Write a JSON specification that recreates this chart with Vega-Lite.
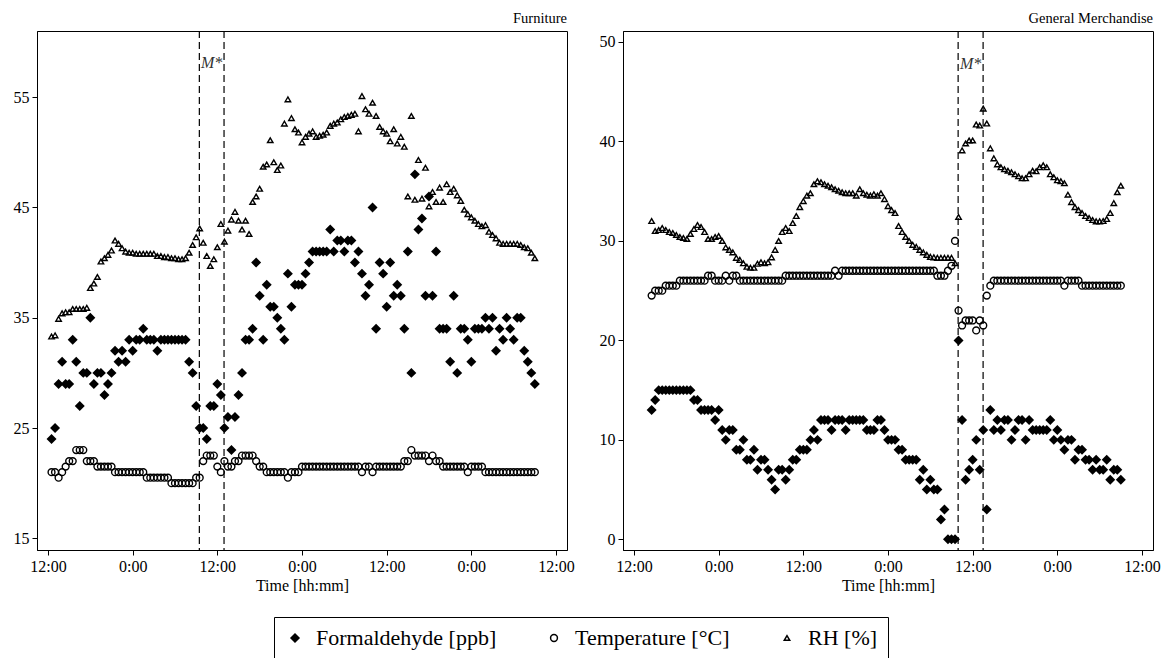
{
"$schema": "https://vega.github.io/schema/vega-lite/v6.json",
"padding": {"left": 12, "top": 10, "right": 5, "bottom": 70},
"spacing": 23,
"config": {
  "font": "Liberation Serif",
  "view": {"stroke": "black", "strokeWidth": 1},
  "axis": {"grid": false, "domainColor": "black", "tickColor": "black", "tickSize": 5, "labelColor": "black", "labelFontSize": 16, "labelFont": "Liberation Serif", "titleFont": "Liberation Serif", "titleFontSize": 16, "titleFontWeight": "normal", "titleColor": "black", "labelPadding": 3, "titlePadding": 3},
  "legend": {"labelFont": "Liberation Serif"},
  "title": {"font": "Liberation Serif", "fontSize": 14.5, "fontWeight": "normal", "color": "black", "anchor": "end", "frame": "group", "offset": 4}
},
"datasets": {
"furn": [
{"h":12.5,"f":24,"T":21,"rh":33.3},{"h":13,"f":25,"T":21,"rh":33.4},{"h":13.5,"f":29,"T":20.5,"rh":34.9},{"h":14,"f":31,"T":21,"rh":35.4},{"h":14.5,"f":29,"T":21.5,"rh":35.5},{"h":15,"f":29,"T":22,"rh":35.5},{"h":15.5,"f":33,"T":22,"rh":35.8},{"h":16,"f":31,"T":23,"rh":35.8},{"h":16.5,"f":27,"T":23,"rh":35.8},{"h":17,"f":30,"T":23,"rh":35.8},{"h":17.5,"f":30,"T":22,"rh":35.9},{"h":18,"f":35,"T":22,"rh":37.7},{"h":18.5,"f":29,"T":22,"rh":38.1},{"h":19,"f":30,"T":21.5,"rh":38.7},{"h":19.5,"f":30,"T":21.5,"rh":40.1},{"h":20,"f":28,"T":21.5,"rh":40.4},{"h":20.5,"f":29,"T":21.5,"rh":40.7},{"h":21,"f":30,"T":21.5,"rh":41.1},{"h":21.5,"f":32,"T":21,"rh":42.0},{"h":22,"f":31,"T":21,"rh":41.7},{"h":22.5,"f":32,"T":21,"rh":41.3},{"h":23,"f":31,"T":21,"rh":41.0},{"h":23.5,"f":33,"T":21,"rh":40.9},{"h":24,"f":32,"T":21,"rh":40.9},{"h":24.5,"f":33,"T":21,"rh":40.8},{"h":25,"f":33,"T":21,"rh":40.8},{"h":25.5,"f":34,"T":21,"rh":40.8},{"h":26,"f":33,"T":20.5,"rh":40.8},{"h":26.5,"f":33,"T":20.5,"rh":40.8},{"h":27,"f":33,"T":20.5,"rh":40.8},{"h":27.5,"f":32,"T":20.5,"rh":40.6},{"h":28,"f":33,"T":20.5,"rh":40.6},{"h":28.5,"f":33,"T":20.5,"rh":40.5},{"h":29,"f":33,"T":20.5,"rh":40.5},{"h":29.5,"f":33,"T":20,"rh":40.4},{"h":30,"f":33,"T":20,"rh":40.4},{"h":30.5,"f":33,"T":20,"rh":40.3},{"h":31,"f":33,"T":20,"rh":40.3},{"h":31.5,"f":33,"T":20,"rh":40.4},{"h":32,"f":31,"T":20,"rh":40.9},{"h":32.5,"f":30,"T":20,"rh":41.6},{"h":33,"f":27,"T":20.5,"rh":42.3},{"h":33.5,"f":25,"T":20.5,"rh":43.1},{"h":34,"f":25,"T":22,"rh":41.8},{"h":34.5,"f":24,"T":22.5,"rh":40.6},{"h":35,"f":27,"T":22.5,"rh":39.7},{"h":35.5,"f":27,"T":22.5,"rh":40.3},{"h":36,"f":29,"T":21.5,"rh":41.4},{"h":36.5,"f":28,"T":21,"rh":43.5},{"h":37,"f":25,"T":22,"rh":41.9},{"h":37.5,"f":26,"T":21.5,"rh":42.9},{"h":38,"f":23,"T":21.5,"rh":43.9},{"h":38.5,"f":26,"T":22,"rh":44.6},{"h":39,"f":28,"T":22,"rh":43.8},{"h":39.5,"f":30,"T":22.5,"rh":43.0},{"h":40,"f":33,"T":22.5,"rh":43.8},{"h":40.5,"f":33,"T":22.5,"rh":42.6},{"h":41,"f":34,"T":22.5,"rh":45.5},{"h":41.5,"f":40,"T":22,"rh":46.0},{"h":42,"f":37,"T":21.5,"rh":46.7},{"h":42.5,"f":33,"T":21.5,"rh":48.7},{"h":43,"f":38,"T":21,"rh":48.9},{"h":43.5,"f":36,"T":21,"rh":51.1},{"h":44,"f":36,"T":21,"rh":49.1},{"h":44.5,"f":35,"T":21,"rh":48.4},{"h":45,"f":34,"T":21,"rh":48.8},{"h":45.5,"f":33,"T":21,"rh":52.6},{"h":46,"f":39,"T":20.5,"rh":54.8},{"h":46.5,"f":36,"T":21,"rh":53.1},{"h":47,"f":38,"T":21,"rh":52.1},{"h":47.5,"f":38,"T":21,"rh":51.8},{"h":48,"f":38,"T":21.5,"rh":50.9},{"h":48.5,"f":39,"T":21.5,"rh":51.4},{"h":49,"f":40,"T":21.5,"rh":51.7},{"h":49.5,"f":41,"T":21.5,"rh":51.9},{"h":50,"f":41,"T":21.5,"rh":51.4},{"h":50.5,"f":41,"T":21.5,"rh":51.5},{"h":51,"f":41,"T":21.5,"rh":51.6},{"h":51.5,"f":41,"T":21.5,"rh":51.8},{"h":52,"f":43,"T":21.5,"rh":52.4},{"h":52.5,"f":41,"T":21.5,"rh":52.6},{"h":53,"f":42,"T":21.5,"rh":52.7},{"h":53.5,"f":42,"T":21.5,"rh":53.0},{"h":54,"f":41,"T":21.5,"rh":53.2},{"h":54.5,"f":42,"T":21.5,"rh":53.3},{"h":55,"f":42,"T":21.5,"rh":53.4},{"h":55.5,"f":40,"T":21.5,"rh":53.5},{"h":56,"f":41,"T":21.5,"rh":51.9},{"h":56.5,"f":39,"T":21,"rh":55.1},{"h":57,"f":37,"T":21.5,"rh":53.9},{"h":57.5,"f":38,"T":21.5,"rh":53.5},{"h":58,"f":45,"T":21,"rh":54.5},{"h":58.5,"f":34,"T":21.5,"rh":53.3},{"h":59,"f":40,"T":21.5,"rh":52.3},{"h":59.5,"f":39,"T":21.5,"rh":51.9},{"h":60,"f":36,"T":21.5,"rh":51.7},{"h":60.5,"f":40,"T":21.5,"rh":51.0},{"h":61,"f":37,"T":21.5,"rh":52.1},{"h":61.5,"f":38,"T":21.5,"rh":50.8},{"h":62,"f":37,"T":21.5,"rh":51.4},{"h":62.5,"f":34,"T":22,"rh":50.5},{"h":63,"f":41,"T":22,"rh":46.0},{"h":63.5,"f":30,"T":23,"rh":53.3},{"h":64,"f":48,"T":22.5,"rh":45.7},{"h":64.5,"f":43,"T":22.5,"rh":49.3},{"h":65,"f":44,"T":22.5,"rh":45.8},{"h":65.5,"f":37,"T":22.5,"rh":48.6},{"h":66,"f":46,"T":22,"rh":45.1},{"h":66.5,"f":37,"T":22.5,"rh":46.4},{"h":67,"f":41,"T":22,"rh":45.5},{"h":67.5,"f":34,"T":22,"rh":46.8},{"h":68,"f":34,"T":21.5,"rh":45.5},{"h":68.5,"f":34,"T":21.5,"rh":47.1},{"h":69,"f":31,"T":21.5,"rh":46.4},{"h":69.5,"f":37,"T":21.5,"rh":46.7},{"h":70,"f":30,"T":21.5,"rh":46.1},{"h":70.5,"f":34,"T":21.5,"rh":45.6},{"h":71,"f":34,"T":21.5,"rh":44.8},{"h":71.5,"f":33,"T":21,"rh":44.4},{"h":72,"f":31,"T":21.5,"rh":44.1},{"h":72.5,"f":34,"T":21.5,"rh":43.8},{"h":73,"f":34,"T":21.5,"rh":43.5},{"h":73.5,"f":34,"T":21.5,"rh":43.3},{"h":74,"f":35,"T":21,"rh":43.4},{"h":74.5,"f":34,"T":21,"rh":42.8},{"h":75,"f":35,"T":21,"rh":42.5},{"h":75.5,"f":32,"T":21,"rh":42.2},{"h":76,"f":34,"T":21,"rh":41.8},{"h":76.5,"f":33,"T":21,"rh":41.7},{"h":77,"f":35,"T":21,"rh":41.7},{"h":77.5,"f":34,"T":21,"rh":41.7},{"h":78,"f":33,"T":21,"rh":41.7},{"h":78.5,"f":35,"T":21,"rh":41.7},{"h":79,"f":35,"T":21,"rh":41.6},{"h":79.5,"f":32,"T":21,"rh":41.4},{"h":80,"f":31,"T":21,"rh":41.3},{"h":80.5,"f":30,"T":21,"rh":40.9},{"h":81,"f":29,"T":21,"rh":40.4}
],
"gm": [
{"h":14.5,"f":13,"T":24.5,"rh":32.0},{"h":15,"f":14,"T":25,"rh":31.0},{"h":15.5,"f":15,"T":25,"rh":31.1},{"h":16,"f":15,"T":25,"rh":31.3},{"h":16.5,"f":15,"T":25.5,"rh":31.1},{"h":17,"f":15,"T":25.5,"rh":30.9},{"h":17.5,"f":15,"T":25.5,"rh":30.8},{"h":18,"f":15,"T":25.5,"rh":30.6},{"h":18.5,"f":15,"T":26,"rh":30.4},{"h":19,"f":15,"T":26,"rh":30.3},{"h":19.5,"f":15,"T":26,"rh":30.2},{"h":20,"f":15,"T":26,"rh":30.7},{"h":20.5,"f":14,"T":26,"rh":31.2},{"h":21,"f":14,"T":26,"rh":31.6},{"h":21.5,"f":13,"T":26,"rh":31.4},{"h":22,"f":13,"T":26,"rh":30.9},{"h":22.5,"f":13,"T":26.5,"rh":30.2},{"h":23,"f":13,"T":26.5,"rh":30.2},{"h":23.5,"f":12,"T":26,"rh":30.4},{"h":24,"f":13,"T":26,"rh":30.5},{"h":24.5,"f":11,"T":26,"rh":30.0},{"h":25,"f":10,"T":26.5,"rh":29.35},{"h":25.5,"f":11,"T":26,"rh":29.1},{"h":26,"f":11,"T":26.5,"rh":28.85},{"h":26.5,"f":9,"T":26.5,"rh":28.3},{"h":27,"f":9,"T":26,"rh":28.1},{"h":27.5,"f":10,"T":26,"rh":27.75},{"h":28,"f":8,"T":26,"rh":27.4},{"h":28.5,"f":8,"T":26,"rh":27.3},{"h":29,"f":9,"T":26,"rh":27.3},{"h":29.5,"f":7,"T":26,"rh":27.7},{"h":30,"f":8,"T":26,"rh":27.85},{"h":30.5,"f":8,"T":26,"rh":27.75},{"h":31,"f":7,"T":26,"rh":27.85},{"h":31.5,"f":6,"T":26,"rh":28.35},{"h":32,"f":5,"T":26,"rh":29.1},{"h":32.5,"f":7,"T":26,"rh":30.0},{"h":33,"f":7,"T":26,"rh":30.9},{"h":33.5,"f":6,"T":26.5,"rh":31.3},{"h":34,"f":7,"T":26.5,"rh":31.0},{"h":34.5,"f":8,"T":26.5,"rh":31.8},{"h":35,"f":8,"T":26.5,"rh":32.5},{"h":35.5,"f":9,"T":26.5,"rh":33.4},{"h":36,"f":9,"T":26.5,"rh":34.0},{"h":36.5,"f":9,"T":26.5,"rh":34.55},{"h":37,"f":10,"T":26.5,"rh":34.8},{"h":37.5,"f":11,"T":26.5,"rh":35.7},{"h":38,"f":10,"T":26.5,"rh":36.0},{"h":38.5,"f":12,"T":26.5,"rh":35.9},{"h":39,"f":12,"T":26.5,"rh":35.7},{"h":39.5,"f":12,"T":26.5,"rh":35.55},{"h":40,"f":11,"T":26.5,"rh":35.4},{"h":40.5,"f":12,"T":27,"rh":35.2},{"h":41,"f":12,"T":26.5,"rh":35.05},{"h":41.5,"f":12,"T":27,"rh":34.9},{"h":42,"f":11,"T":27,"rh":34.8},{"h":42.5,"f":12,"T":27,"rh":34.8},{"h":43,"f":12,"T":27,"rh":34.8},{"h":43.5,"f":12,"T":27,"rh":34.55},{"h":44,"f":12,"T":27,"rh":35.2},{"h":44.5,"f":12,"T":27,"rh":34.8},{"h":45,"f":11,"T":27,"rh":34.65},{"h":45.5,"f":11,"T":27,"rh":34.55},{"h":46,"f":11,"T":27,"rh":34.7},{"h":46.5,"f":12,"T":27,"rh":34.55},{"h":47,"f":12,"T":27,"rh":34.8},{"h":47.5,"f":11,"T":27,"rh":34.2},{"h":48,"f":10,"T":27,"rh":33.5},{"h":48.5,"f":10,"T":27,"rh":33.1},{"h":49,"f":10,"T":27,"rh":32.8},{"h":49.5,"f":9,"T":27,"rh":31.5},{"h":50,"f":9,"T":27,"rh":30.9},{"h":50.5,"f":8,"T":27,"rh":30.4},{"h":51,"f":8,"T":27,"rh":30.0},{"h":51.5,"f":8,"T":27,"rh":29.6},{"h":52,"f":8,"T":27,"rh":29.4},{"h":52.5,"f":6,"T":27,"rh":29.1},{"h":53,"f":7,"T":27,"rh":28.85},{"h":53.5,"f":5,"T":27,"rh":28.6},{"h":54,"f":6,"T":27,"rh":28.4},{"h":54.5,"f":5,"T":27,"rh":28.35},{"h":55,"f":5,"T":26.5,"rh":28.3},{"h":55.5,"f":2,"T":26.5,"rh":28.3},{"h":56,"f":3,"T":26.5,"rh":28.3},{"h":56.5,"f":0,"T":27,"rh":28.3},{"h":57,"f":0,"T":27.5,"rh":28.3},{"h":57.5,"f":0,"T":30,"rh":27.75},{"h":58,"f":20,"T":23,"rh":32.4},{"h":58.5,"f":12,"T":21.5,"rh":39.1},{"h":59,"f":6,"T":22,"rh":39.8},{"h":59.5,"f":7,"T":22,"rh":40.1},{"h":60,"f":8,"T":22,"rh":40.1},{"h":60.5,"f":10,"T":21,"rh":41.7},{"h":61,"f":7,"T":22,"rh":41.6},{"h":61.5,"f":11,"T":21.5,"rh":43.3},{"h":62,"f":3,"T":24.5,"rh":41.8},{"h":62.5,"f":13,"T":25.5,"rh":39.3},{"h":63,"f":11,"T":26,"rh":38.3},{"h":63.5,"f":12,"T":26,"rh":37.7},{"h":64,"f":11,"T":26,"rh":37.4},{"h":64.5,"f":12,"T":26,"rh":37.2},{"h":65,"f":12,"T":26,"rh":37.06},{"h":65.5,"f":10,"T":26,"rh":36.9},{"h":66,"f":11,"T":26,"rh":36.7},{"h":66.5,"f":12,"T":26,"rh":36.5},{"h":67,"f":12,"T":26,"rh":36.3},{"h":67.5,"f":10,"T":26,"rh":36.3},{"h":68,"f":12,"T":26,"rh":36.7},{"h":68.5,"f":11,"T":26,"rh":37.06},{"h":69,"f":11,"T":26,"rh":37.0},{"h":69.5,"f":11,"T":26,"rh":37.4},{"h":70,"f":11,"T":26,"rh":37.6},{"h":70.5,"f":11,"T":26,"rh":37.4},{"h":71,"f":12,"T":26,"rh":36.7},{"h":71.5,"f":10,"T":26,"rh":36.4},{"h":72,"f":11,"T":26,"rh":36.1},{"h":72.5,"f":10,"T":26,"rh":36.0},{"h":73,"f":9,"T":25.5,"rh":35.8},{"h":73.5,"f":10,"T":26,"rh":34.65},{"h":74,"f":10,"T":26,"rh":33.9},{"h":74.5,"f":8,"T":26,"rh":33.4},{"h":75,"f":9,"T":26,"rh":33.1},{"h":75.5,"f":9,"T":25.5,"rh":32.8},{"h":76,"f":8,"T":25.5,"rh":32.5},{"h":76.5,"f":8,"T":25.5,"rh":32.3},{"h":77,"f":7,"T":25.5,"rh":32.1},{"h":77.5,"f":8,"T":25.5,"rh":31.97},{"h":78,"f":7,"T":25.5,"rh":31.97},{"h":78.5,"f":7,"T":25.5,"rh":32.0},{"h":79,"f":8,"T":25.5,"rh":32.2},{"h":79.5,"f":6,"T":25.5,"rh":32.8},{"h":80,"f":7,"T":25.5,"rh":33.8},{"h":80.5,"f":7,"T":25.5,"rh":34.9},{"h":81,"f":6,"T":25.5,"rh":35.55}
]
},
"hconcat": [
{
  "width": 530, "height": 519,
  "title": {"text": "Furniture"},
  "layer": [
    {
      "data": {"name": "furn"},
      "transform": [{"fold": ["f", "T", "rh"], "as": ["key", "value"]}],
      "mark": {"type": "point", "filled": false, "opacity": 1, "color": "black", "strokeWidth": 1.4},
      "encoding": {
        "x": {"field": "h", "type": "quantitative", "scale": {"domain": [10.44, 85.56], "nice": false, "zero": false}, "axis": {"values": [12, 24, 36, 48, 60, 72, 84], "labelExpr": "datum.value % 24 == 0 ? '0:00' : '12:00'", "title": "Time [hh:mm]"}},
        "y": {"field": "value", "type": "quantitative", "scale": {"domain": [13.94, 61.0], "nice": false, "zero": false}, "axis": {"values": [15, 25, 35, 45, 55], "title": null}},
        "shape": {"field": "key", "type": "nominal", "scale": {"domain": ["f", "T", "rh"], "range": ["M-1,0L0,-1L1,0L0,1Z M-0.75,0L0,-0.75L0.75,0L0,0.75Z M-0.5,0L0,-0.5L0.5,0L0,0.5Z M-0.25,0L0,-0.25L0.25,0L0,0.25Z M-0.05,0L0,-0.05L0.05,0L0,0.05Z", "circle", "triangle-up"]}, "legend": {"title": null, "orient": "none", "legendX": 237, "legendY": 586, "direction": "horizontal", "labelFont": "Liberation Serif", "labelFontSize": 22, "labelColor": "black", "labelLimit": 0, "labelOffset": 10, "columnPadding": 46, "padding": 10, "strokeColor": "black", "labelExpr": "datum.label == 'f' ? 'Formaldehyde [ppb]' : datum.label == 'T' ? 'Temperature [°C]' : 'RH [%]'"}},
        "size": {"field": "key", "type": "nominal", "scale": {"domain": ["f", "T", "rh"], "range": [64, 30, 72]}, "legend": {"title": null, "orient": "none", "legendX": 237, "legendY": 586, "direction": "horizontal", "labelFont": "Liberation Serif", "labelFontSize": 22, "labelColor": "black", "labelLimit": 0, "labelOffset": 10, "columnPadding": 46, "padding": 10, "strokeColor": "black", "labelExpr": "datum.label == 'f' ? 'Formaldehyde [ppb]' : datum.label == 'T' ? 'Temperature [°C]' : 'RH [%]'"}}
      }
    },
    {
      "data": {"values": [{"h": 33.45}, {"h": 36.95}]},
      "mark": {"type": "rule", "color": "black", "strokeWidth": 1.2, "strokeDash": [7, 4]},
      "encoding": {"x": {"field": "h", "type": "quantitative"}}
    },
    {
      "data": {"values": [{"h": 35.2, "y": 58.1, "label": "M*"}]},
      "mark": {"type": "text", "fontStyle": "italic", "fontSize": 16, "font": "Liberation Serif", "color": "#333333"},
      "encoding": {"x": {"field": "h", "type": "quantitative"}, "y": {"field": "y", "type": "quantitative"}, "text": {"field": "label"}}
    }
  ]
},
{
  "width": 530, "height": 519,
  "title": {"text": "General Merchandise"},
  "layer": [
    {
      "data": {"name": "gm"},
      "transform": [{"fold": ["f", "T", "rh"], "as": ["key", "value"]}],
      "mark": {"type": "point", "filled": false, "opacity": 1, "color": "black", "strokeWidth": 1.4},
      "encoding": {
        "x": {"field": "h", "type": "quantitative", "scale": {"domain": [10.44, 85.56], "nice": false, "zero": false}, "axis": {"values": [12, 24, 36, 48, 60, 72, 84], "labelExpr": "datum.value % 24 == 0 ? '0:00' : '12:00'", "title": "Time [hh:mm]"}},
        "y": {"field": "value", "type": "quantitative", "scale": {"domain": [-1.07, 51.1], "nice": false, "zero": false}, "axis": {"values": [0, 10, 20, 30, 40, 50], "title": null}},
        "shape": {"field": "key", "type": "nominal", "scale": {"domain": ["f", "T", "rh"], "range": ["M-1,0L0,-1L1,0L0,1Z M-0.75,0L0,-0.75L0.75,0L0,0.75Z M-0.5,0L0,-0.5L0.5,0L0,0.5Z M-0.25,0L0,-0.25L0.25,0L0,0.25Z M-0.05,0L0,-0.05L0.05,0L0,0.05Z", "circle", "triangle-up"]}, "legend": {"title": null, "orient": "none", "legendX": 237, "legendY": 586, "direction": "horizontal", "labelFont": "Liberation Serif", "labelFontSize": 22, "labelColor": "black", "labelLimit": 0, "labelOffset": 10, "columnPadding": 46, "padding": 10, "strokeColor": "black", "labelExpr": "datum.label == 'f' ? 'Formaldehyde [ppb]' : datum.label == 'T' ? 'Temperature [°C]' : 'RH [%]'"}},
        "size": {"field": "key", "type": "nominal", "scale": {"domain": ["f", "T", "rh"], "range": [64, 30, 72]}, "legend": {"title": null, "orient": "none", "legendX": 237, "legendY": 586, "direction": "horizontal", "labelFont": "Liberation Serif", "labelFontSize": 22, "labelColor": "black", "labelLimit": 0, "labelOffset": 10, "columnPadding": 46, "padding": 10, "strokeColor": "black", "labelExpr": "datum.label == 'f' ? 'Formaldehyde [ppb]' : datum.label == 'T' ? 'Temperature [°C]' : 'RH [%]'"}}
      }
    },
    {
      "data": {"values": [{"h": 57.94}, {"h": 61.48}]},
      "mark": {"type": "rule", "color": "black", "strokeWidth": 1.2, "strokeDash": [7, 4]},
      "encoding": {"x": {"field": "h", "type": "quantitative"}}
    },
    {
      "data": {"values": [{"h": 59.7, "y": 47.8, "label": "M*"}]},
      "mark": {"type": "text", "fontStyle": "italic", "fontSize": 16, "font": "Liberation Serif", "color": "#333333"},
      "encoding": {"x": {"field": "h", "type": "quantitative"}, "y": {"field": "y", "type": "quantitative"}, "text": {"field": "label"}}
    }
  ]
}
]
}
